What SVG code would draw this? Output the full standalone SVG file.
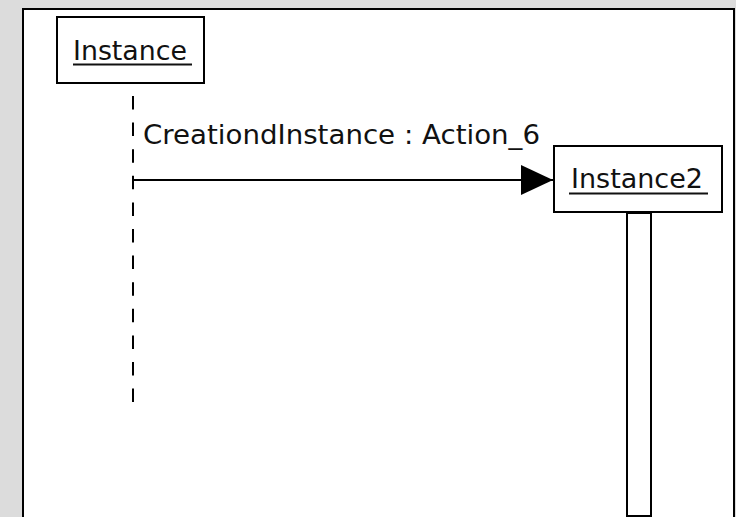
<svg xmlns="http://www.w3.org/2000/svg" width="736" height="517" viewBox="0 0 736 517">
<style>
.box{fill:#fff;stroke:#000;stroke-width:2}
.lbl{font-family:"DejaVu Sans","Liberation Sans",sans-serif;font-size:26px;fill:#111}
.ul{stroke:#111;stroke-width:2}
.life{stroke:#000;stroke-width:2;stroke-dasharray:13.5 13.1}
.msg{stroke:#000;stroke-width:2;fill:none}
</style>
<defs>
<marker id="arr" markerUnits="userSpaceOnUse" markerWidth="34" markerHeight="32" refX="32" refY="16" orient="auto">
<path d="M0,1 L32,16 L0,31 Z" fill="#000"/>
</marker>
</defs>
<rect x="0" y="0" width="736" height="517" fill="#dcdcdc"/>
<rect x="23" y="9" width="711" height="520" fill="#fff" stroke="#000" stroke-width="2"/>
<g id="connectors">
<line class="life" x1="133" y1="96" x2="133" y2="404"/>
<line class="msg" x1="133" y1="180" x2="553" y2="180" marker-end="url(#arr)"/>
<text class="lbl" x="143" y="144" textLength="397" lengthAdjust="spacingAndGlyphs">CreationdInstance : Action_6</text>
</g>
<g id="instance">
<rect class="box" x="57" y="17" width="147" height="66"/>
<text class="lbl" x="73" y="60" textLength="114" lengthAdjust="spacingAndGlyphs">Instance</text>
<line class="ul" x1="73" y1="64.5" x2="192" y2="64.5"/>
</g>
<g id="instance2">
<rect class="box" x="554" y="146" width="168" height="66"/>
<text class="lbl" x="571" y="188" textLength="132" lengthAdjust="spacingAndGlyphs">Instance2</text>
<line class="ul" x1="569" y1="193.5" x2="708" y2="193.5"/>
<rect class="box" x="627" y="213" width="24" height="303"/>
</g>
</svg>
